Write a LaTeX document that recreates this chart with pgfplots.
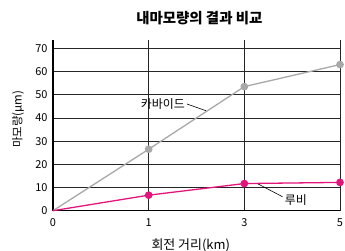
\documentclass[border=0pt]{standalone}
\usepackage{fontspec}
\setmainfont{Noto Sans CJK KR}
\usepackage{pgfplots}
\pgfplotsset{compat=1.18}
\definecolor{cgray}{RGB}{168,168,168}
\definecolor{cpink}{RGB}{228,21,122}
\begin{document}
\begin{tikzpicture}
\begin{axis}[
  scale only axis,
  width=287bp, height=170.7bp,
  xmin=0, xmax=3, ymin=0, ymax=73.6,
  xtick={0,1,2,3}, xticklabels={0,1,3,5},
  ytick={0,10,...,70},
  axis x line*=bottom, axis y line*=left,
  x axis line style={-, line width=1.3pt},
  y axis line style={-, line width=1.3pt},
  major tick length=0pt,
  xmajorgrids, ymajorgrids,
  grid style={black!85, line width=0.6pt},
  tick label style={font=\fontsize{11}{12}\selectfont},
  xticklabel style={yshift=-4bp},
  yticklabel style={xshift=-2bp},
  /pgf/number format/assume math mode=true,
  clip=false,
  title={\bfseries\fontsize{14.5}{16}\selectfont 내마모량의 결과 비교},
  title style={at={(0.51,1)}, anchor=center, yshift=16bp},
  ylabel={\fontsize{11.5}{13}\selectfont 마모량(μm)},
  ylabel style={at={(axis description cs:-0.122,0.535)}, anchor=center},
  xlabel={\fontsize{13}{14}\selectfont 회전 거리(km)},
  xlabel style={at={(axis description cs:0.48,0)}, anchor=center, yshift=-35bp},
  every axis plot/.append style={line width=1.3pt},
]
\addplot[cgray, mark=*, mark size=3.2pt, mark indices={2,3,4}] coordinates {(0,0) (1,26.5) (2,53.5) (3,63)};
\addplot[cpink, mark=*, mark size=3.2pt, mark indices={2,3,4}] coordinates {(0,0) (1,6.7) (2,11.7) (3,12.2)};
\node[font=\fontsize{12}{13}\selectfont, anchor=east, inner sep=1pt] at (axis cs:1.39,46) {카바이드};
\draw[black, line width=0.6pt] (axis cs:1.40,46) -- (axis cs:1.60,43.1);
\node[font=\fontsize{12}{13}\selectfont, anchor=west, inner sep=1pt] at (axis cs:2.41,4.6) {루비};
\draw[black, line width=0.6pt] (axis cs:2.145,11.5) -- (axis cs:2.40,6.0);
\end{axis}
\pgfresetboundingbox
\path ([shift={(-53bp,-40.3bp)}]current axis.south west) rectangle ([shift={(5bp,40bp)}]current axis.north east);
\end{tikzpicture}
\end{document}
